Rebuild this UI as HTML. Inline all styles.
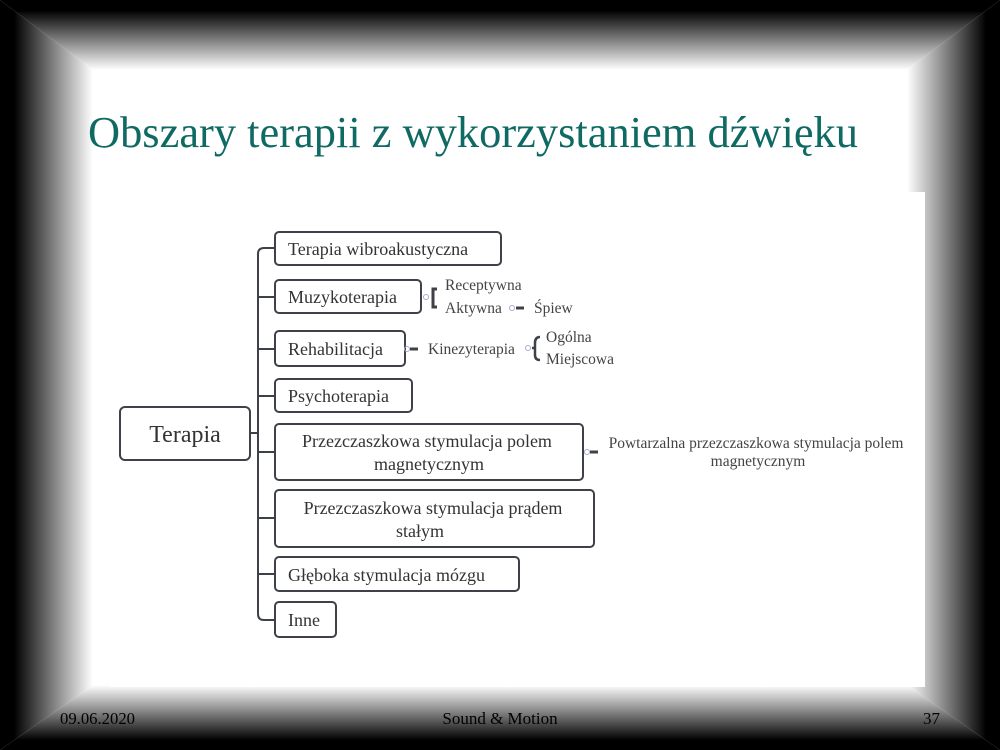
<!DOCTYPE html>
<html><head><meta charset="utf-8"><style>
html,body{margin:0;padding:0;background:#fff}
svg{display:block}
</style></head><body>
<svg width="1000" height="750" viewBox="0 0 1000 750" xmlns="http://www.w3.org/2000/svg" font-family="'Liberation Serif', serif">
<defs>
<linearGradient id="gt" x1="0" y1="0" x2="0" y2="1"><stop offset="0.15" stop-color="#000"/><stop offset="0.6" stop-color="#888"/><stop offset="1" stop-color="#fff"/></linearGradient>
<linearGradient id="gb" x1="0" y1="1" x2="0" y2="0"><stop offset="0.15" stop-color="#000"/><stop offset="0.6" stop-color="#888"/><stop offset="1" stop-color="#fff"/></linearGradient>
<linearGradient id="gl" x1="0" y1="0" x2="1" y2="0"><stop offset="0.15" stop-color="#000"/><stop offset="0.6" stop-color="#888"/><stop offset="1" stop-color="#fff"/></linearGradient>
<linearGradient id="gr" x1="1" y1="0" x2="0" y2="0"><stop offset="0.15" stop-color="#000"/><stop offset="0.6" stop-color="#888"/><stop offset="1" stop-color="#fff"/></linearGradient>
</defs>
<rect width="1000" height="750" fill="#fff"/>
<polygon points="0,0 1000,0 907,70 93,70" fill="url(#gt)"/>
<polygon points="0,750 1000,750 907,685 93,685" fill="url(#gb)"/>
<polygon points="0,0 93,70 93,685 0,750" fill="url(#gl)"/>
<polygon points="1000,0 907,70 907,685 1000,750" fill="url(#gr)"/>
<rect x="110" y="192" width="815" height="495" fill="#fff"/>
<text x="88" y="147" font-size="44" textLength="770" lengthAdjust="spacingAndGlyphs" fill="#0f6a63">Obszary terapii z wykorzystaniem dźwięku</text>
<g fill="#fff" stroke="#3e4248" stroke-width="2">
<rect x="120" y="407" width="130" height="53" rx="5"/>
<rect x="275" y="232" width="226" height="33" rx="4"/>
<rect x="275" y="280" width="146" height="33" rx="4"/>
<rect x="275" y="331" width="130" height="35" rx="4"/>
<rect x="275" y="379" width="137" height="33" rx="4"/>
<rect x="275" y="424" width="308" height="56" rx="4"/>
<rect x="275" y="490" width="319" height="57" rx="4"/>
<rect x="275" y="557" width="244" height="34" rx="4"/>
<rect x="275" y="602" width="61" height="35" rx="4"/>
</g>
<g fill="none" stroke="#3e4248" stroke-width="2">
<path d="M250 433 H258"/>
<path d="M275 248 H264 Q258 248 258 254 V614 Q258 620 264 620 H275"/>
<path d="M258 297 H275 M258 349 H275 M258 396 H275 M258 452 H275 M258 518 H275 M258 574 H275"/>
<path d="M437 289 H433 V307 H437" stroke-width="3"/>
<path d="M410 349 H418" stroke-width="3"/>
<path d="M516 308 H524" stroke-width="3"/>
<path d="M540 337 Q535 337 535 343 V355 Q535 360 540 360 M535 348 H532" stroke-width="2.5"/>
<path d="M590 452 H598" stroke-width="3"/>
</g>
<g fill="none" stroke="#aac" stroke-width="1">
<circle cx="426" cy="297" r="2.5"/><circle cx="407" cy="349" r="2.5"/><circle cx="512" cy="308" r="2.5"/><circle cx="528" cy="348" r="2.5"/><circle cx="587" cy="452" r="2.5"/>
</g>
<g fill="#333" font-size="18">
<text x="185" y="442" font-size="24" text-anchor="middle">Terapia</text>
<text x="288" y="255">Terapia wibroakustyczna</text>
<text x="288" y="303">Muzykoterapia</text>
<text x="288" y="355">Rehabilitacja</text>
<text x="288" y="402">Psychoterapia</text>
<text x="427" y="447" text-anchor="middle">Przezczaszkowa stymulacja polem</text>
<text x="429" y="470" text-anchor="middle">magnetycznym</text>
<text x="433" y="514" text-anchor="middle">Przezczaszkowa stymulacja prądem</text>
<text x="420" y="537" text-anchor="middle">stałym</text>
<text x="288" y="581">Głęboka stymulacja mózgu</text>
<text x="288" y="626">Inne</text>
</g>
<g fill="#444" font-size="15.5">
<text x="445" y="290">Receptywna</text>
<text x="445" y="313">Aktywna</text>
<text x="534" y="313">Śpiew</text>
<text x="428" y="354">Kinezyterapia</text>
<text x="546" y="342">Ogólna</text>
<text x="546" y="364">Miejscowa</text>
<text x="756" y="448" text-anchor="middle">Powtarzalna przezczaszkowa stymulacja polem</text>
<text x="758" y="466" text-anchor="middle">magnetycznym</text>
</g>
<g fill="#000" font-size="17">
<text x="60" y="724" textLength="75" lengthAdjust="spacingAndGlyphs">09.06.2020</text>
<text x="500" y="724" text-anchor="middle">Sound &amp; Motion</text>
<text x="940" y="724" text-anchor="end">37</text>
</g>
</svg>
</body></html>
